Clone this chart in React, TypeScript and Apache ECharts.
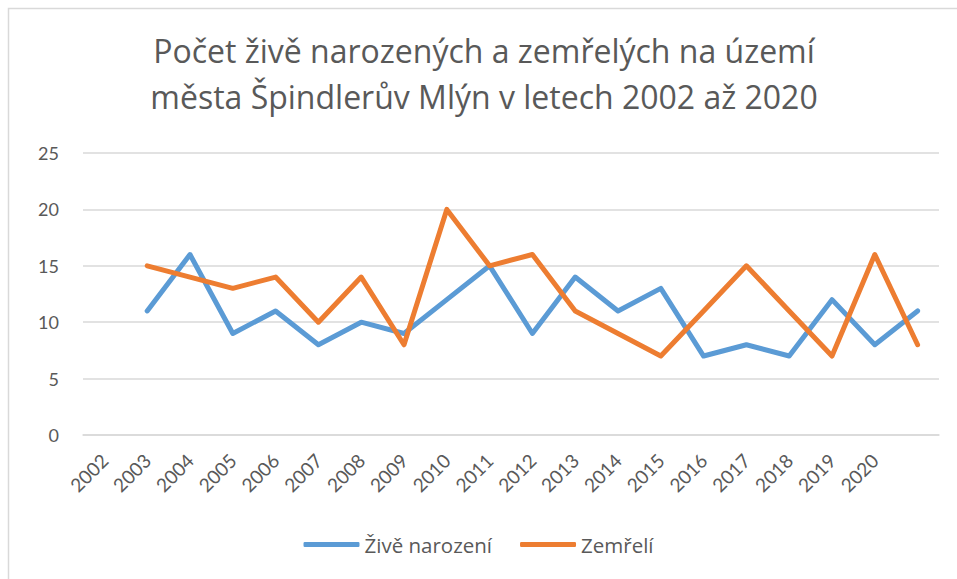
import React, { useEffect, useRef } from "react";
import * as echarts from "echarts";

const categories = ["2002","2003","2004","2005","2006","2007","2008","2009","2010","2011","2012","2013","2014","2015","2016","2017","2018","2019","2020",""];
const ziveNarozeni: (number | null)[] = [null, 11, 16, 9, 11, 8, 10, 9, 12, 15, 9, 14, 11, 13, 7, 8, 7, 12, 8, 11];
const zemreli: (number | null)[] = [null, 15, 14, 13, 14, 10, 14, 8, 20, 15, 16, 11, 9, 7, 11, 15, 11, 7, 16, 8];
const seriesNames = ["Živě narození", "Zemřelí"];
const titleText = "Počet živě narozených a zemřelých na území\nměsta Špindlerův Mlýn v letech 2002 až 2020";

const FONT = "Lato";
const TFONT = "Open Sans";

export default function App() {
  const ref = useRef<HTMLDivElement>(null);
  useEffect(() => {
    if (!ref.current) return;
    const chart = echarts.init(ref.current, null, { renderer: "svg" });
    chart.setOption({
      animation: false,
      backgroundColor: "#ffffff",
      title: {
        text: titleText,
        left: 479,
        top: 22,
        textAlign: "center",
        textStyle: {
          fontFamily: TFONT,
          fontSize: 32,
          fontWeight: "normal",
          color: "#595959",
          lineHeight: 46,
        },
      },
      graphic: [
        {
          type: "polyline",
          shape: { points: [[8.5, 579], [8.5, 8.5], [957, 8.5]] },
          style: { stroke: "#d9d9d9", lineWidth: 1.5, fill: "none" },
          silent: true,
        },
      ],
      grid: { left: 83, right: 18, top: 153, bottom: 144 },
      legend: {
        bottom: 19,
        left: "center",
        icon: "roundRect",
        itemWidth: 56,
        itemHeight: 5,
        itemGap: 28,
        textStyle: { fontFamily: TFONT, fontSize: 20.5, color: "#595959" },
        data: seriesNames,
      },
      xAxis: {
        type: "category",
        data: categories,
        boundaryGap: true,
        axisLine: { lineStyle: { color: "#d9d9d9", width: 1.5 } },
        axisTick: { show: false },
        axisLabel: {
          interval: 0,
          rotate: 45,
          margin: 22,
          fontFamily: FONT,
          fontSize: 19,
          color: "#595959",
        },
      },
      yAxis: {
        type: "value",
        min: 0,
        max: 25,
        interval: 5,
        axisLine: { show: false },
        axisTick: { show: false },
        splitLine: { lineStyle: { color: "#d9d9d9", width: 1.5 } },
        axisLabel: {
          margin: 24,
          fontFamily: FONT,
          fontSize: 18,
          color: "#595959",
        },
      },
      series: [
        {
          name: seriesNames[0],
          type: "line",
          data: ziveNarozeni,
          symbol: "none",
          lineStyle: { color: "#5b9bd5", width: 5, cap: "round", join: "round" },
          itemStyle: { color: "#5b9bd5" },
        },
        {
          name: seriesNames[1],
          type: "line",
          data: zemreli,
          symbol: "none",
          lineStyle: { color: "#ed7d31", width: 5, cap: "round", join: "round" },
          itemStyle: { color: "#ed7d31" },
        },
      ],
    });
    return () => chart.dispose();
  }, []);
  return (
    <div
      ref={ref}
      style={{ position: "absolute", left: 0, top: 0, width: 957, height: 579 }}
    />
  );
}
